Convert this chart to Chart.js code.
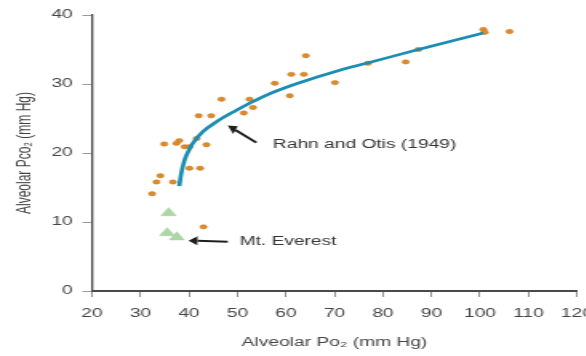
<!DOCTYPE html>
<html><head><meta charset="utf-8">
<script src="https://cdn.jsdelivr.net/npm/chart.js@4/dist/chart.umd.min.js"></script>
<style>
html,body{margin:0;padding:0;background:#fff;overflow:hidden;width:586px;height:356px;}
#wrap{position:absolute;left:0;top:0;width:380px;height:356px;transform:scaleX(1.6);transform-origin:0 0;}
</style></head><body>
<div id="wrap"><canvas id="c" width="380" height="356"></canvas></div>
<script>
// ---- data ----
const dotsPO2  = [34.9,37.4,38.0,39.1,40.1,41.6,43.6,42.0,44.6,46.7,51.3,52.5,53.2,57.7,60.8,61.1,63.7,64.1,70.1,76.9,84.7,87.3,100.7,101.0,106.1,40.1,42.3,34.1,33.3,36.7,32.4,43.0];
const dotsPCO2 = [21.3,21.4,21.8,20.9,20.9,22.1,21.2,25.4,25.4,27.8,25.8,27.8,26.6,30.1,28.3,31.4,31.4,34.1,30.2,33.0,33.2,35.0,37.9,37.5,37.6,17.8,17.8,16.7,15.8,15.8,14.1,9.3];
const everestPO2  = [35.8,35.5,37.5];
const everestPCO2 = [11.3,8.4,7.8];
const curvePO2  = [38.0,38.4,39.1,40.0,40.8,42.9,45.6,49.8,52.5,56.0,62.0,71.1,76.6,87.3,100.7];
const curvePCO2 = [15.2,17.0,19.0,20.4,21.4,23.1,24.5,26.2,27.2,28.4,30.0,32.0,33.0,35.0,37.4];
const xTickValues = [20,30,40,50,60,70,80,90,100,110,120];
const yTickValues = [0,10,20,30,40];
const xTitle = 'Alveolar Po₂ (mm Hg)';
const yTitle = 'Alveolar Pco₂ (mm Hg)';
const annotations = [
  {text:'Rahn and Otis (1949)', textAt:[57.3,21.2], from:[53.9,21.5], to:[48.0,24.0]},
  {text:'Mt. Everest', textAt:[50.4,7.2], from:[48.0,7.15], to:[39.9,7.3]}
];

const STRETCH = 1.6;
const FONT = '"Liberation Sans", Arial, sans-serif';
const zip = (xs, ys) => xs.map((x,i)=>({x, y: ys[i]}));

const annotationPlugin = {
  id: 'notes',
  afterDatasetsDraw(chart) {
    const {ctx, scales:{x, y}} = chart;
    ctx.save();
    annotations.forEach(a => {
      const fx = x.getPixelForValue(a.from[0]), fy = y.getPixelForValue(a.from[1]);
      const tx = x.getPixelForValue(a.to[0]),   ty = y.getPixelForValue(a.to[1]);
      const FX = fx*STRETCH, TX = tx*STRETCH;
      const ang = Math.atan2(ty-fy, TX-FX);
      const L = 9, W = 4.5;
      const bx = TX - L*Math.cos(ang), by = ty - L*Math.sin(ang);
      ctx.strokeStyle = '#1e1e1e'; ctx.fillStyle = '#1e1e1e';
      ctx.lineWidth = 2;
      ctx.beginPath(); ctx.moveTo(fx, fy); ctx.lineTo(bx/STRETCH, by); ctx.stroke();
      ctx.beginPath();
      ctx.moveTo(TX/STRETCH, ty);
      ctx.lineTo((bx - W*Math.sin(ang))/STRETCH, by + W*Math.cos(ang));
      ctx.lineTo((bx + W*Math.sin(ang))/STRETCH, by - W*Math.cos(ang));
      ctx.closePath(); ctx.fill();
      ctx.font = '12px ' + FONT;
      ctx.fillStyle = '#333';
      ctx.textAlign = 'left'; ctx.textBaseline = 'middle';
      ctx.fillText(a.text, x.getPixelForValue(a.textAt[0]), y.getPixelForValue(a.textAt[1]));
    });
    ctx.restore();
  }
};

new Chart(document.getElementById('c'), {
  type: 'scatter',
  data: {
    datasets: [
      {type:'line', label:'Rahn and Otis (1949)', data: zip(curvePO2, curvePCO2), borderColor:'#1b8db3', borderWidth:2.7, pointRadius:0, fill:false, cubicInterpolationMode:'monotone', order:0},
      {label:'Data', data: zip(dotsPO2, dotsPCO2), backgroundColor:'#dc8a2a', borderColor:'#c97d22', borderWidth:0.5, pointRadius:2.2, order:1},
      {label:'Mt. Everest', data: zip(everestPO2, everestPCO2), pointStyle:'triangle', backgroundColor:'#acd6a3', borderColor:'#a2d099', borderWidth:0.5, pointRadius:5.4, order:1}
    ]
  },
  options: {
    responsive:false, animation:false,
    layout:{padding:{left:0, top:15, right:19.4, bottom:0}},
    plugins:{legend:{display:false}, tooltip:{enabled:false}},
    scales:{
      x:{
        type:'linear', min:20, max:120,
        afterBuildTicks: s => { s.ticks = xTickValues.map(v=>({value:v})); },
        afterFit: s => { s.height = 65; },
        grid:{display:true, drawOnChartArea:false, drawTicks:true, tickLength:6, color:'#8f8f8f', lineWidth:1},
        border:{display:true, color:'#4a4a4a', width:2},
        ticks:{font:{size:12, family:FONT}, color:'#444', padding:9, autoSkip:false, maxRotation:0},
        title:{display:true, text:xTitle, font:{size:12, family:FONT}, color:'#444', padding:{top:4, bottom:5.8}}
      },
      y:{
        type:'linear', min:0, max:40,
        afterBuildTicks: s => { s.ticks = yTickValues.map(v=>({value:v})); },
        afterFit: s => { s.width = 57.5; },
        grid:{display:true, drawOnChartArea:false, drawTicks:true, tickLength:6, color:'#9a9a9a', lineWidth:1},
        border:{display:true, color:'#4a4a4a', width:1.3},
        ticks:{font:{size:12, family:FONT}, color:'#444', padding:6, autoSkip:false},
        title:{display:true, text:yTitle, font:{size:12, family:FONT}, color:'#444', padding:{top:8, bottom:4}}
      }
    }
  },
  plugins:[annotationPlugin]
});
</script>
</body></html>
